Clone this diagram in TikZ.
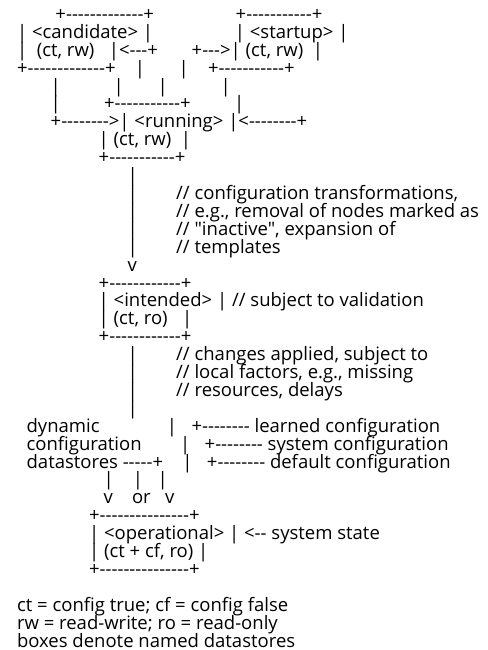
\documentclass[tikz,border=0pt]{standalone}
\usepackage{fontspec}
\newfontfamily\figfont{Open Sans}[Ligatures=TeXOff]
% n interword spaces of the current font
\newcommand\sgap[1]{\hspace*{#1\fontdimen2\font}}
\frenchspacing
\begin{document}
\begin{tikzpicture}[x=1pt,y=-1pt,
  txt/.style={anchor=base west, inner sep=0pt, outer sep=0pt,
    font=\figfont\fontsize{18.5}{17.9}\selectfont}]
\fill[white] (0,0) rectangle (487,650);
\useasboundingbox (0,0) rectangle (487,650);
% left origin of every line and line pitch
\def\xo{-7}
\def\by#1{20.5+(#1-1)*17.9}
\node[txt] (l01) at (\xo,{\by{1}})  {\sgap{13}+-------------+\sgap{17}+-----------+};
\node[txt] (l02) at (\xo,{\by{2}})  {\sgap{5}| <candidate> |\sgap{17}| <startup> |};
\node[txt] (l03) at (\xo,{\by{3}})  {\sgap{5}|\sgap{2}(ct, rw)\sgap{3}|<---+\sgap{7}+--->| (ct, rw)\sgap{2}|};
\node[txt] (l04) at (\xo,{\by{4}})  {\sgap{5}+-------------+\sgap{4}|\sgap{7}|\sgap{4}+-----------+};
\node[txt] (l05) at (\xo,{\by{5}})  {\sgap{12}|\sgap{11}|\sgap{7}|\sgap{11}|};
\node[txt] (l06) at (\xo,{\by{6}})  {\sgap{12}|\sgap{9}+-----------+\sgap{9}|};
\node[txt] (l07) at (\xo,{\by{7}})  {\sgap{12}+-------->| <running> |<--------+};
\node[txt] (l08) at (\xo,{\by{8}})  {\sgap{22}| (ct, rw)\sgap{2}|};
\node[txt] (l09) at (\xo,{\by{9}})  {\sgap{22}+-----------+};
\node[txt] (l10) at (\xo,{\by{10}}) {\sgap{28}|};
\node[txt] (l11) at (\xo,{\by{11}}) {\sgap{28}|\sgap{8}// configuration transformations,};
\node[txt] (l12) at (\xo,{\by{12}}) {\sgap{28}|\sgap{8}// e.g., removal of nodes marked as};
\node[txt] (l13) at (\xo,{\by{13}}) {\sgap{28}|\sgap{8}// "inactive", expansion of};
\node[txt] (l14) at (\xo,{\by{14}}) {\sgap{28}|\sgap{8}// templates};
\node[txt] (l15) at (\xo,{\by{15}}) {\sgap{28}v};
\node[txt] (l16) at (\xo,{\by{16}}) {\sgap{22}+------------+};
\node[txt] (l17) at (\xo,{\by{17}}) {\sgap{22}| <intended> | // subject to validation};
\node[txt] (l18) at (\xo,{\by{18}}) {\sgap{22}| (ct, ro)\sgap{3}|};
\node[txt] (l19) at (\xo,{\by{19}}) {\sgap{22}+------------+};
\node[txt] (l20) at (\xo,{\by{20}}) {\sgap{28}|\sgap{8}// changes applied, subject to};
\node[txt] (l21) at (\xo,{\by{21}}) {\sgap{28}|\sgap{8}// local factors, e.g., missing};
\node[txt] (l22) at (\xo,{\by{22}}) {\sgap{28}|\sgap{8}// resources, delays};
\node[txt] (l23) at (\xo,{\by{23}}) {\sgap{28}|};
\node[txt] (l24) at (\xo,{\by{24}}) {\sgap{7}dynamic\sgap{14}|\sgap{3}+-------- learned configuration};
\node[txt] (l25) at (\xo,{\by{25}}) {\sgap{7}configuration\sgap{8}|\sgap{3}+-------- system configuration};
\node[txt] (l26) at (\xo,{\by{26}}) {\sgap{7}datastores -----+\sgap{4}|\sgap{3}+-------- default configuration};
\node[txt] (l27) at (\xo,{\by{27}}) {\sgap{23}|\sgap{4}|\sgap{3}|};
\node[txt] (l28) at (\xo,{\by{28}}) {\sgap{23}v\sgap{4}or\sgap{3}v};
\node[txt] (l29) at (\xo,{\by{29}}) {\sgap{20}+---------------+};
\node[txt] (l30) at (\xo,{\by{30}}) {\sgap{20}| <operational> | <-- system state};
\node[txt] (l31) at (\xo,{\by{31}}) {\sgap{20}| (ct + cf, ro) |};
\node[txt] (l32) at (\xo,{\by{32}}) {\sgap{20}+---------------+};
\node[txt] (l34) at (\xo,{\by{34}}) {\sgap{5}ct = config true; cf = config false};
\node[txt] (l35) at (\xo,{\by{35}}) {\sgap{5}rw = read-write; ro = read-only};
\node[txt] (l36) at (\xo,{\by{36}}) {\sgap{5}boxes denote named datastores};
\end{tikzpicture}
\end{document}
